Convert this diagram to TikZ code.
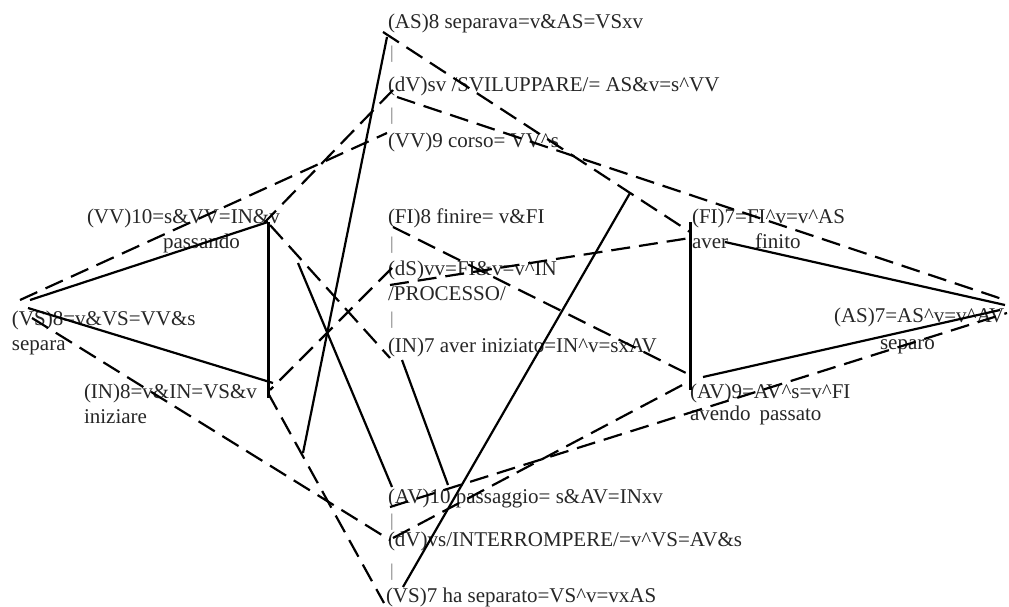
\documentclass[tikz,border=0pt]{standalone}
\usepackage{fontspec}
\setmainfont{Liberation Serif}
\newcommand{\ca}{\textasciicircum}
\begin{document}
\begin{tikzpicture}[x=1pt,y=-1pt,
  lbl/.style={anchor=base west,inner sep=0pt,outer sep=0pt,font=\fontsize{21}{25}\selectfont,text=black!85},
  sepbar/.style={anchor=base west,inner sep=0pt,outer sep=0pt,font=\fontsize{18}{20}\selectfont,text=black!55},
  solidln/.style={line width=2.2pt},
  thickln/.style={line width=3pt},
  dashln/.style={line width=2.2pt,dash pattern=on 19pt off 9pt}]
\useasboundingbox (0,0) rectangle (1009,607);
% middle column
\node[lbl] (as8) at (388,29) {(AS)8 separava=v\&AS=VSxv};
\node[sepbar] (b1) at (390,59) {|};
\node[lbl] (dvsv) at (388,92) {(dV)sv /SVILUPPARE/= AS\&v=s\ca VV};
\node[sepbar] (b2) at (390,121) {|};
\node[lbl] (vv9) at (388,148) {(VV)9 corso= VV\ca s};
\node[lbl] (fi8) at (388,223) {(FI)8 finire= v\&FI};
\node[sepbar] (b3) at (390,249) {|};
\node[lbl] (ds) at (388,275) {(dS)vv=FI\&v=v\ca IN};
\node[lbl] (proc) at (388,300) {/PROCESSO/};
\node[sepbar] (b4) at (390,324) {|};
\node[lbl] (in7) at (388,352) {(IN)7 aver iniziato=IN\ca v=sxAV};
\node[lbl] (av10) at (388,503) {(AV)10 passaggio= s\&AV=INxv};
\node[sepbar] (b5) at (390,526) {|};
\node[lbl] (dvvs) at (388,546) {(dV)vs/INTERROMPERE/=v\ca VS=AV\&s};
\node[sepbar] (b6) at (390,576) {|};
\node[lbl] (vs7) at (386,602) {(VS)7 ha separato=VS\ca v=vxAS};
% left
\node[lbl] (vv10) at (87,223) {(VV)10=s\&VV=IN\&v};
\node[lbl] (passando) at (163,248) {passando};
\node[lbl] (vs8) at (12,325) {(VS)8=v\&VS=VV\&s};
\node[lbl] (separa) at (12,350) {separa};
\node[lbl] (in8) at (84,398) {(IN)8=v\&IN=VS\&v};
\node[lbl] (iniziare) at (84,423) {iniziare};
% right
\node[lbl] (fi7) at (692,223) {(FI)7=FI\ca v=v\ca AS};
\node[lbl] (averfinito) at (692,248) {aver\hspace{27pt}finito};
\node[lbl] (as7) at (834,322) {(AS)7=AS\ca v=v\ca AV};
\node[lbl] (separo) at (880,349) {separo};
\node[lbl] (av9) at (690,398) {(AV)9=AV\ca s=v\ca FI};
\node[lbl] (avendo) at (690,420) {avendo\hspace{9pt}passato};
% connection points
\coordinate (vs8a) at (30,300);
\coordinate (vs8b) at (28,308);
\coordinate (vs8c) at (20,300);
\coordinate (vs8d) at (32,318);
\coordinate (vv10a) at (268,222);
\coordinate (vv10b) at (265,222);
\coordinate (vv10c) at (270,225);
\coordinate (in8a) at (268,398);
\coordinate (in8b) at (273,383);
\coordinate (in8c) at (270,390);
\coordinate (in8d) at (268,393);
\coordinate (as8a) at (387,37);
\coordinate (as8b) at (383,32);
\coordinate (freeA) at (303,453);
\coordinate (freeB) at (298,263);
\coordinate (av10a) at (392,487);
\coordinate (av10b) at (448,485);
\coordinate (av10c) at (390,507);
\coordinate (in7a) at (402,360);
\coordinate (in7b) at (390,358);
\coordinate (vs7a) at (403,587);
\coordinate (vs7b) at (384,603);
\coordinate (top7) at (630,193);
\coordinate (fi7a) at (690,222);
\coordinate (av9a) at (690,390);
\coordinate (fi7b) at (725,242);
\coordinate (fi7c) at (690,232);
\coordinate (fi7d) at (690,238);
\coordinate (as7a) at (1005,305);
\coordinate (as7b) at (1000,310);
\coordinate (as7c) at (1005,300);
\coordinate (as7d) at (1007,313);
\coordinate (av9b) at (703,377);
\coordinate (av9c) at (690,375);
\coordinate (av9d) at (688,382);
\coordinate (vv9a) at (387,133);
\coordinate (dvsva) at (393,90);
\coordinate (dvsvb) at (397,97);
\coordinate (dsa) at (392,268);
\coordinate (dsb) at (390,285);
\coordinate (fi8a) at (393,227);
\coordinate (dvvsa) at (390,540);
\coordinate (dvvsb) at (393,538);
% solid connectors
\draw[solidln] (vs8a) -- (vv10a);
\draw[thickln] (vv10a) -- (in8a);
\draw[solidln] (vs8b) -- (in8b);
\draw[solidln] (as8a) -- (freeA);
\draw[solidln] (freeB) -- (av10a);
\draw[solidln] (in7a) -- (av10b);
\draw[solidln] (vs7a) -- (top7);
\draw[thickln] (fi7a) -- (av9a);
\draw[solidln] (fi7b) -- (as7a);
\draw[solidln] (av9b) -- (as7b);
% dashed connectors
\draw[dashln] (vs8c) -- (vv9a);
\draw[dashln] (dvsva) -- (vv10b);
\draw[dashln] (vv10c) -- (in7b);
\draw[dashln] (dsa) -- (in8c);
\draw[dashln] (in8d) -- (vs7b);
\draw[dashln] (vs8d) -- (dvvsa);
\draw[dashln] (as8b) -- (fi7c);
\draw[dashln] (dvsvb) -- (as7c);
\draw[dashln] (fi8a) -- (av9c);
\draw[dashln] (dsb) -- (fi7d);
\draw[dashln] (dvvsb) -- (av9d);
\draw[dashln] (av10c) -- (as7d);
\end{tikzpicture}
\end{document}
